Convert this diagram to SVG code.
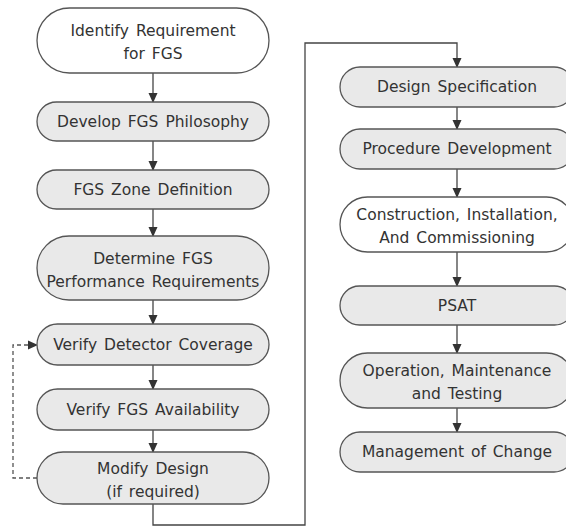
<svg xmlns="http://www.w3.org/2000/svg" width="566" height="529" viewBox="0 0 566 529">
<style>
.n{stroke:#555;stroke-width:1.3;fill:#e9e9e9}
.w{fill:#fff}
text{font-family:"DejaVu Sans",Verdana,sans-serif;font-size:15.5px;fill:#333;text-anchor:middle;word-spacing:2px}
.c{fill:none;stroke:#444;stroke-width:1.3}
.d{fill:none;stroke:#555;stroke-width:1.3;stroke-dasharray:4 3}
</style>
<defs>
<marker id="a" markerWidth="10" markerHeight="10" refX="9" refY="5" orient="auto" markerUnits="userSpaceOnUse">
<path d="M0,0.5 L10,5 L0,9.5 Z" fill="#333"/>
</marker>
</defs>
<rect width="566" height="529" fill="#fff"/>
<g id="connectors">
<line class="c" x1="153" y1="73" x2="153" y2="102" marker-end="url(#a)"/>
<line class="c" x1="153" y1="141" x2="153" y2="170" marker-end="url(#a)"/>
<line class="c" x1="153" y1="209" x2="153" y2="236" marker-end="url(#a)"/>
<line class="c" x1="153" y1="300" x2="153" y2="324" marker-end="url(#a)"/>
<line class="c" x1="153" y1="365" x2="153" y2="389" marker-end="url(#a)"/>
<line class="c" x1="153" y1="430" x2="153" y2="452" marker-end="url(#a)"/>
<polyline class="c" points="153,504 153,525 305,525 305,43 457,43 457,67" marker-end="url(#a)"/>
<polyline class="d" points="37,478 13,478 13,345 37,345" marker-end="url(#a)"/>
<line class="c" x1="457" y1="107" x2="457" y2="129" marker-end="url(#a)"/>
<line class="c" x1="457" y1="169" x2="457" y2="197" marker-end="url(#a)"/>
<line class="c" x1="457" y1="252" x2="457" y2="286" marker-end="url(#a)"/>
<line class="c" x1="457" y1="325" x2="457" y2="353" marker-end="url(#a)"/>
<line class="c" x1="457" y1="408" x2="457" y2="432" marker-end="url(#a)"/>
</g>
<g id="n1"><rect class="n w" x="37" y="8" width="232" height="65" rx="32.5"/><text x="153" y="36">Identify Requirement</text><text x="153" y="59">for FGS</text></g>
<g id="n2"><rect class="n" x="37" y="102" width="232" height="39" rx="19.5"/><text x="153" y="127">Develop FGS Philosophy</text></g>
<g id="n3"><rect class="n" x="37" y="170" width="232" height="39" rx="19.5"/><text x="153" y="195">FGS Zone Definition</text></g>
<g id="n4"><rect class="n" x="37" y="236" width="232" height="64" rx="32"/><text x="153" y="264">Determine FGS</text><text x="153" y="287">Performance Requirements</text></g>
<g id="n5"><rect class="n" x="37" y="324" width="232" height="41" rx="20.5"/><text x="153" y="350">Verify Detector Coverage</text></g>
<g id="n6"><rect class="n" x="37" y="389" width="232" height="41" rx="20.5"/><text x="153" y="415">Verify FGS Availability</text></g>
<g id="n7"><rect class="n" x="37" y="452" width="232" height="52" rx="26"/><text x="153" y="474">Modify Design</text><text x="153" y="497">(if required)</text></g>
<g id="n8"><rect class="n" x="340" y="67" width="234" height="40" rx="20"/><text x="457" y="92">Design Specification</text></g>
<g id="n9"><rect class="n" x="340" y="129" width="234" height="40" rx="20"/><text x="457" y="154">Procedure Development</text></g>
<g id="n10"><rect class="n w" x="340" y="197" width="234" height="55" rx="27.5"/><text x="457" y="220">Construction, Installation,</text><text x="457" y="243">And Commissioning</text></g>
<g id="n11"><rect class="n" x="340" y="286" width="234" height="39" rx="19.5"/><text x="457" y="311">PSAT</text></g>
<g id="n12"><rect class="n" x="340" y="353" width="234" height="55" rx="27.5"/><text x="457" y="376">Operation, Maintenance</text><text x="457" y="399">and Testing</text></g>
<g id="n13"><rect class="n" x="340" y="432" width="234" height="40" rx="20"/><text x="457" y="457">Management of Change</text></g>
</svg>
